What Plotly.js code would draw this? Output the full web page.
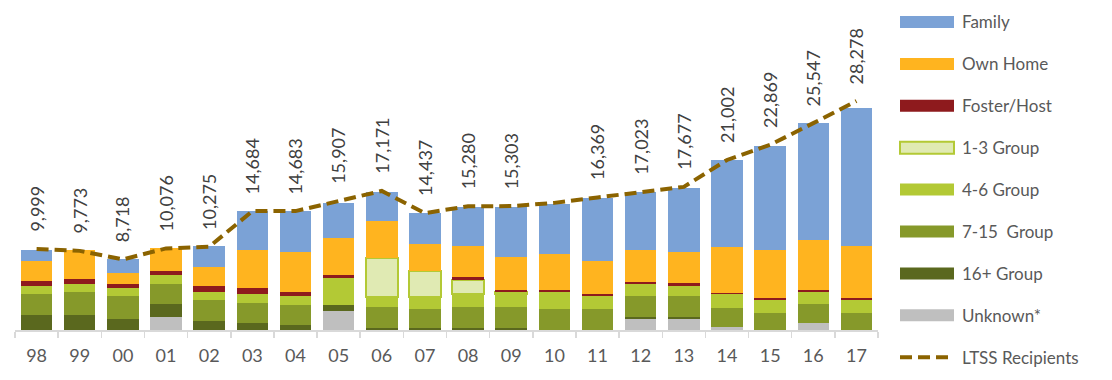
<!DOCTYPE html>
<html><head><meta charset="utf-8">
<script src="https://cdn.plot.ly/plotly-3.0.1.min.js"></script>
<style>html,body{margin:0;padding:0;background:#fff}#chart{width:1112px;height:380px}</style>
</head><body><div id="chart"></div>
<script>
const years = ['98','99','00','01','02','03','04','05','06','07','08','09','10','11','12','13','14','15','16','17'];

const unknown   = [0,0,0,1600,0,0,0,2350,0,0,0,0,0,0,1320,1360,330,0,820,0];
const group16   = [1850,1850,1400,1560,1110,820,580,780,290,290,290,290,0,0,290,290,0,0,0,0];
const group715  = [2630,2880,2800,2550,2550,2550,2550,0,2590,2350,2590,2590,2630,2630,2550,2550,2350,2140,2350,2140];
const group46   = [950,990,1030,1030,1030,1030,1030,3330,1190,1440,1520,1520,2060,1520,1560,1280,1770,1560,1560,1560];
const group13   = [0,0,0,0,0,0,0,0,4780,3210,1810,290,0,0,0,0,0,0,0,0];
const foster    = [620,530,490,535,740,820,535,290,60,0,330,250,290,250,250,290,60,250,250,250];
const ownHome   = [2470,3580,1280,2800,2350,4610,4900,4610,4610,3380,3830,4120,4360,4120,3870,3830,5680,5930,6180,6420];
const family    = [1320,60,1810,0,2590,4860,5100,4360,3580,3830,4860,6130,6180,7740,7200,7940,10780,12840,14370,17000];

const ltss      = [9999,9773,8718,10076,10275,14684,14683,15907,17171,14437,15280,15303,15700,16369,17023,17677,21002,22869,25547,28278];
const ltssShown = [1,1,1,1,1,1,1,1,1,1,1,1,0,1,1,1,1,1,1,1];

const FONT = 'Lato, "Open Sans", "DejaVu Sans", sans-serif';

// bottom-to-top stacking
const series = [
  {name:'Unknown*',   y:unknown,  color:'#bfbfbf'},
  {name:'16+ Group',  y:group16,  color:'#5a681e'},
  {name:'7-15  Group',y:group715, color:'#86992a'},
  {name:'4-6 Group',  y:group46,  color:'#b3c935'},
  {name:'1-3 Group',  y:group13,  color:'#e0eab3', line:'#b3c935'},
  {name:'Foster/Host',y:foster,   color:'#8e1a1d'},
  {name:'Own Home',   y:ownHome,  color:'#ffb41f'},
  {name:'Family',     y:family,   color:'#7ba2d6'}
];
const lineColor = '#8b6300';

const traces = series.map(s => ({
  type:'bar', x:years, y:s.y, name:s.name,
  marker:{color:s.color, line:{width:s.line?2:0, color:s.line||s.color}},
  hoverinfo:'skip'
}));
traces.push({
  type:'scatter', mode:'lines', x:years, y:ltss, name:'LTSS Recipients',
  line:{color:lineColor, width:4, dash:'12px,6px'}, hoverinfo:'skip'
});

const annotations = [];
years.forEach((yr,i) => {
  if (!ltssShown[i]) return;
  annotations.push({
    x:i, y:ltss[i], xref:'x', yref:'y', text:ltss[i].toLocaleString('en-US'),
    textangle:-90, showarrow:false, xanchor:'center', yanchor:'bottom', yshift:15,
    font:{family:FONT, size:18, color:'#404040'}
  });
});

// custom legend (pixel layout converted to paper coords)
const M = {l:15, r:234, t:10, b:50};
const PW = 1112 - M.l - M.r, PH = 380 - M.t - M.b;
const px = v => (v - M.l) / PW;
const py = v => (380 - M.b - v) / PH;
const legendOrder = series.slice().reverse();
const shapes = [];
legendOrder.forEach((s,k) => {
  const cy = 22 + k*41.9;
  shapes.push({type:'rect', xref:'paper', yref:'paper', x0:px(900), x1:px(954), y0:py(cy+6), y1:py(cy-6),
    fillcolor:s.color, line:{width:s.line?2:0, color:s.line||s.color}});
  annotations.push({xref:'paper', yref:'paper', x:px(960), y:py(cy), xanchor:'left', yanchor:'middle',
    showarrow:false, text:s.name.replace(/  /g,'&nbsp; '), font:{family:FONT, size:17, color:'#595959'}});
});
{
  const cy = 22 + 8*41.9;
  shapes.push({type:'line', xref:'paper', yref:'paper', x0:px(900), x1:px(954), y0:py(cy), y1:py(cy),
    line:{color:lineColor, width:4, dash:'12px,6px'}});
  annotations.push({xref:'paper', yref:'paper', x:px(960), y:py(cy), xanchor:'left', yanchor:'middle',
    showarrow:false, text:'LTSS Recipients', font:{family:FONT, size:17, color:'#595959'}});
}

const layout = {
  width:1112, height:380, margin:M,
  barmode:'stack', bargap:0.27,
  showlegend:false,
  paper_bgcolor:'#ffffff', plot_bgcolor:'#ffffff',
  xaxis:{type:'category', range:[-0.5, years.length-0.5], autorange:false,
    tickson:'boundaries', ticks:'outside', ticklen:6, tickcolor:'#d9d9d9', tickwidth:1.5,
    showline:true, linecolor:'#d9d9d9', linewidth:2, showgrid:false, zeroline:false,
    tickangle:0, tickfont:{family:FONT, size:18, color:'#595959'}, ticklabelstandoff:8},
  yaxis:{range:[0, PH*123.5], autorange:false, visible:false, showgrid:false, zeroline:false},
  annotations, shapes
};

Plotly.newPlot('chart', traces, layout, {staticPlot:true, displayModeBar:false});
</script>
</body></html>
